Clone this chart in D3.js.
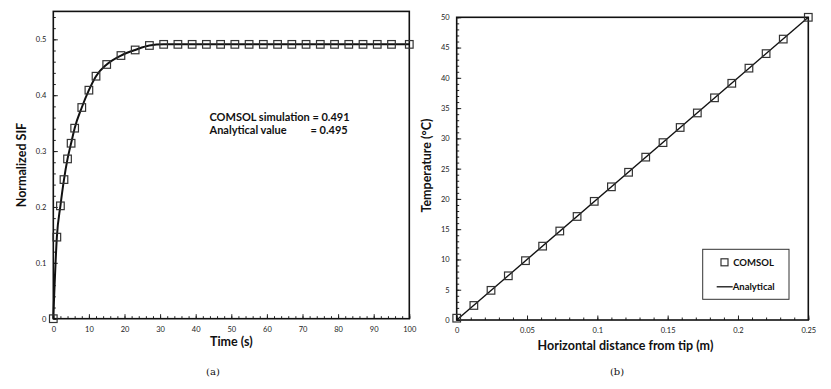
<!DOCTYPE html>
<html>
<head>
<meta charset="utf-8">
<script src="https://cdn.jsdelivr.net/npm/d3@7"></script>
<style>
  body { margin: 0; background: #fff; }
  svg { display: block; }
  .tick text { font-family: Lato, "Open Sans", sans-serif; font-size: 7.5px; fill: #222; }
  .ttl { font-family: Lato, "Open Sans", sans-serif; font-weight: bold; font-size: 12.5px; fill: #111; }
  .note { font-family: Lato, "Open Sans", sans-serif; font-weight: bold; font-size: 11px; fill: #111; }
  .cap { font-family: "DejaVu Serif", "Liberation Serif", serif; font-size: 10px; fill: #111; }
</style>
</head>
<body>
<svg width="831" height="389"></svg>
<script>
// (a) stress intensity factor vs time
var timeS = [0, 1, 2, 3, 4, 5, 6, 8, 10, 12, 15, 19, 23, 27, 31, 35, 39, 43, 47, 51, 55, 59, 63, 67, 71, 75, 79, 83, 87, 91, 95, 100];
var sifComsol = [0, 0.146, 0.202, 0.249, 0.286, 0.314, 0.341, 0.378, 0.409, 0.434, 0.455, 0.471, 0.481, 0.489,
  0.491, 0.491, 0.491, 0.491, 0.491, 0.491, 0.491, 0.491, 0.491, 0.491, 0.491, 0.491, 0.491, 0.491, 0.491, 0.491, 0.491, 0.491];
var timeTicks = [0, 10, 20, 30, 40, 50, 60, 70, 80, 90, 100];
var sifTicks = [0, 0.1, 0.2, 0.3, 0.4, 0.5];

// (b) temperature vs distance from tip
var distM = [0, 0.0122, 0.0244, 0.0367, 0.0489, 0.0611, 0.0733, 0.0856, 0.0978, 0.11, 0.1222,
  0.1344, 0.1467, 0.1589, 0.1711, 0.1833, 0.1956, 0.2078, 0.22, 0.2322, 0.25];
var tempComsol = [0.3, 2.4, 4.9, 7.3, 9.8, 12.2, 14.7, 17.1, 19.6, 22.0, 24.4,
  26.9, 29.3, 31.8, 34.2, 36.7, 39.1, 41.6, 44.0, 46.4, 50.0];
var distAnalytical = [0, 0.25];
var tempAnalytical = [0, 50];
var distTicks = [0, 0.05, 0.1, 0.15, 0.2, 0.25];
var tempTicks = [0, 5, 10, 15, 20, 25, 30, 35, 40, 45, 50];

var svg = d3.select("svg");

function minorList(lo, hi, step) {
  var out = [];
  var n = Math.round((hi - lo) / step);
  for (var i = 0; i <= n; i++) out.push(+(lo + i * step).toFixed(6));
  return out;
}

function drawFrame(g, x, y, xt, yt, xminor, yminor, xfmt, yfmt) {
  var x0 = x.range()[0], x1 = x.range()[1], y0 = y.range()[0], y1 = y.range()[1];

  g.append("g").attr("transform", "translate(0," + y0 + ")")
    .call(d3.axisBottom(x).tickValues(xminor).tickSize(-2.5).tickFormat(""))
    .call(function(a) { a.select(".domain").remove(); });
  g.append("g").attr("transform", "translate(" + x0 + ",0)")
    .call(d3.axisLeft(y).tickValues(yminor).tickSize(-2.5).tickFormat(""))
    .call(function(a) { a.select(".domain").remove(); });

  g.append("g").attr("transform", "translate(0," + y0 + ")")
    .call(d3.axisBottom(x).tickValues(xt).tickSize(-4.5).tickPadding(8).tickFormat(xfmt))
    .call(function(a) { a.select(".domain").remove(); });
  g.append("g").attr("transform", "translate(" + x0 + ",0)")
    .call(d3.axisLeft(y).tickValues(yt).tickSize(-4.5).tickPadding(7).tickFormat(yfmt))
    .call(function(a) { a.select(".domain").remove(); });

  g.selectAll(".tick line").attr("stroke", "#222").attr("stroke-width", 1);

  g.append("rect")
    .attr("x", x0).attr("y", y1)
    .attr("width", x1 - x0).attr("height", y0 - y1)
    .attr("fill", "none").attr("stroke", "#111").attr("stroke-width", 1.6);
}

function drawSquares(g, xs, ys, x, y) {
  g.append("g").selectAll("rect")
    .data(xs)
    .enter().append("rect")
    .attr("x", function(d) { return x(d) - 3.8; })
    .attr("y", function(d, i) { return y(ys[i]) - 3.8; })
    .attr("width", 7.6).attr("height", 7.6)
    .attr("fill", "none").attr("stroke", "#333").attr("stroke-width", 1.2);
}

// ---- panel (a)
var xa = d3.scaleLinear().domain([0, 100]).range([53.3, 409.3]);
var ya = d3.scaleLinear().domain([0, 0.55]).range([318.7, 11.4]);
var ga = svg.append("g");

drawFrame(ga, xa, ya, timeTicks, sifTicks, minorList(0, 100, 2), minorList(0, 0.54, 0.02),
  d3.format("d"), function(d) { return d === 0 ? "0" : d3.format(".1f")(d); });

var lineA = d3.line()
  .x(function(d) { return xa(d); })
  .y(function(d, i) { return ya(sifComsol[i]); })
  .curve(d3.curveMonotoneX);
ga.append("path").datum(timeS)
  .attr("d", lineA).attr("fill", "none").attr("stroke", "#111").attr("stroke-width", 2);
drawSquares(ga, timeS, sifComsol, xa, ya);

ga.append("text").attr("class", "ttl").attr("x", xa(50)).attr("y", 346)
  .attr("text-anchor", "middle").text("Time (s)");
ga.append("text").attr("class", "ttl")
  .attr("transform", "translate(26," + ya(0.275) + ") rotate(-90)")
  .attr("text-anchor", "middle").text("Normalized SIF");
ga.append("text").attr("class", "note").attr("x", 209.5).attr("y", 120.5).text("COMSOL simulation = 0.491");
ga.append("text").attr("class", "note").attr("x", 209.5).attr("y", 134).text("Analytical value");
ga.append("text").attr("class", "note").attr("x", 310.5).attr("y", 134).text("= 0.495");
ga.append("text").attr("class", "cap").attr("x", 213).attr("y", 375)
  .attr("text-anchor", "middle").text("(a)");

// ---- panel (b)
var xb = d3.scaleLinear().domain([0, 0.25]).range([456.7, 808.3]);
var yb = d3.scaleLinear().domain([0, 50]).range([320, 17.3]);
var gb = svg.append("g");

drawFrame(gb, xb, yb, distTicks, tempTicks, minorList(0, 0.25, 0.01), minorList(0, 50, 1),
  function(d) { return d === 0 ? "0" : String(d); }, d3.format("d"));

var lineB = d3.line()
  .x(function(d) { return xb(d); })
  .y(function(d, i) { return yb(tempAnalytical[i]); });
gb.append("path").datum(distAnalytical)
  .attr("d", lineB).attr("fill", "none").attr("stroke", "#111").attr("stroke-width", 1.4);
drawSquares(gb, distM, tempComsol, xb, yb);

gb.append("text").attr("class", "ttl").attr("x", xb(0.12)).attr("y", 349.5)
  .attr("text-anchor", "middle").text("Horizontal distance from tip (m)");
gb.append("text").attr("class", "ttl")
  .attr("transform", "translate(431," + yb(25.5) + ") rotate(-90)")
  .attr("text-anchor", "middle").text("Temperature (°C)");
gb.append("text").attr("class", "cap").attr("x", 617).attr("y", 375)
  .attr("text-anchor", "middle").text("(b)");

// legend
var lg = gb.append("g").attr("transform", "translate(702.7,249.3)");
lg.append("rect").attr("width", 86.3).attr("height", 50)
  .attr("fill", "#fff").attr("stroke", "#333").attr("stroke-width", 1);
lg.append("rect").attr("x", 18.3).attr("y", 9.5).attr("width", 7).attr("height", 7)
  .attr("fill", "none").attr("stroke", "#333").attr("stroke-width", 1.2);
lg.append("text").attr("class", "ttl").style("font-size", "9.5px").attr("x", 30.5).attr("y", 16.5).text("COMSOL");
lg.append("line").attr("x1", 14).attr("x2", 30).attr("y1", 37.5).attr("y2", 37.5)
  .attr("stroke", "#111").attr("stroke-width", 1.3);
lg.append("text").attr("class", "ttl").style("font-size", "9.5px").attr("x", 30).attr("y", 41).text("Analytical");
</script>
</body>
</html>
